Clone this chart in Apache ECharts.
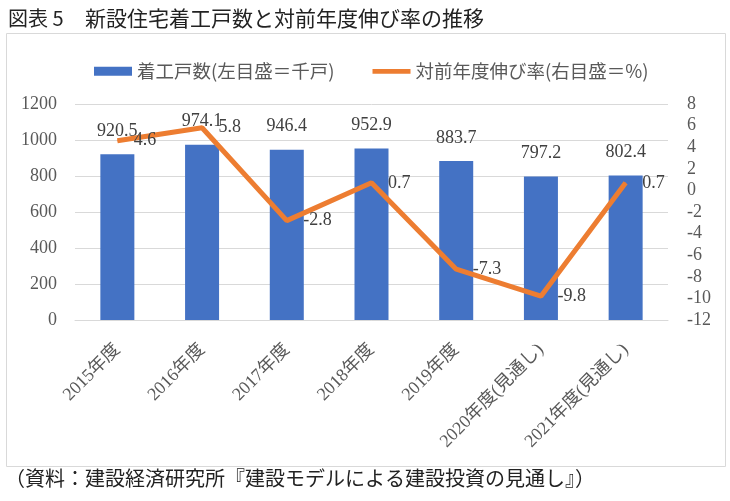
<!DOCTYPE html>
<html><head><meta charset="utf-8">
<script src="https://cdn.jsdelivr.net/npm/echarts@6/dist/echarts.min.js"></script>
<style>html,body{margin:0;padding:0;background:#fff}#c{width:730px;height:501px}</style>
</head><body><div id="c"></div>
<script>
const categories = ['2015年度','2016年度','2017年度','2018年度','2019年度','2020年度(見通し)','2021年度(見通し)'];
const starts = [920.5, 974.1, 946.4, 952.9, 883.7, 797.2, 802.4];
const growth = [4.6, 5.8, -2.8, 0.7, -7.3, -9.8, 0.7];
const barName = '着工戸数(左目盛＝千戸)';
const lineName = '対前年度伸び率(右目盛＝%)';
const titleLead = '図表 5';
const titleText = '新設住宅着工戸数と対前年度伸び率の推移';
const sourceText = '（資料：建設経済研究所『建設モデルによる建設投資の見通し』）';

const FONT = "'Liberation Serif', 'Noto Sans CJK JP', serif";
const chart = echarts.init(document.getElementById('c'), null, {renderer:'canvas'});
chart.setOption({
  animation:false,
  textStyle:{fontFamily:FONT},
  graphic:[
    {type:'rect', shape:{x:6.5,y:33.5,width:719,height:433}, style:{fill:'none', stroke:'#d9d9d9', lineWidth:1}, z:-1},
    {type:'text', x:8, y:18, style:{text:titleLead, font:"20px 'Noto Sans CJK JP'", fill:'#222', verticalAlign:'middle'}},
    {type:'text', x:85, y:18, style:{text:titleText, font:"21px 'Noto Sans CJK JP'", fill:'#222', verticalAlign:'middle'}},
    {type:'text', x:5, y:478, style:{text:sourceText, font:"20px 'Noto Sans CJK JP'", fill:'#222', verticalAlign:'middle'}}
  ],
  legend:{
    top:57, left:89, itemWidth:38, itemHeight:9, itemGap:38,
    textStyle:{fontFamily:"'Noto Sans CJK JP'", fontSize:18.5, color:'#595959'},
    data:[{name:barName, icon:'rect'}, {name:lineName, icon:'path://M0,0 L40,0 L40,5 L0,5 Z'}]
  },
  grid:{left:75, right:62, top:104, bottom:181},
  xAxis:{
    type:'category', data:categories,
    axisLine:{lineStyle:{color:'#d9d9d9'}}, axisTick:{show:false},
    axisLabel:{rotate:45, interval:0, fontSize:18, color:'#595959', margin:27, fontFamily:FONT}
  },
  yAxis:[
    {type:'value', min:0, max:1200, interval:200,
     axisLabel:{fontSize:18, color:'#595959', margin:18, formatter:v=>String(v)},
     splitLine:{lineStyle:{color:'#d9d9d9'}}, axisLine:{show:false}, axisTick:{show:false}},
    {type:'value', min:-12, max:8, interval:2, position:'right',
     axisLabel:{fontSize:18, color:'#595959', margin:19, formatter:v=>String(v)},
     splitLine:{show:false}, axisLine:{show:false}, axisTick:{show:false}}
  ],
  series:[
    {name:barName, type:'bar', data:starts, barWidth:34, itemStyle:{color:'#4472C4'},
     label:{show:true, position:'top', distance:14, fontSize:18, color:'#404040', fontFamily:FONT}},
    {name:lineName, type:'line', yAxisIndex:1, data:growth, symbol:'circle', symbolSize:1, showSymbol:true,
     lineStyle:{color:'#ED7D31', width:5}, itemStyle:{color:'#ED7D31'},
     label:{show:true, position:'right', distance:16, fontSize:18, color:'#404040', fontFamily:FONT},
     labelLayout:{hideOverlap:false}}
  ]
});
</script></body></html>
